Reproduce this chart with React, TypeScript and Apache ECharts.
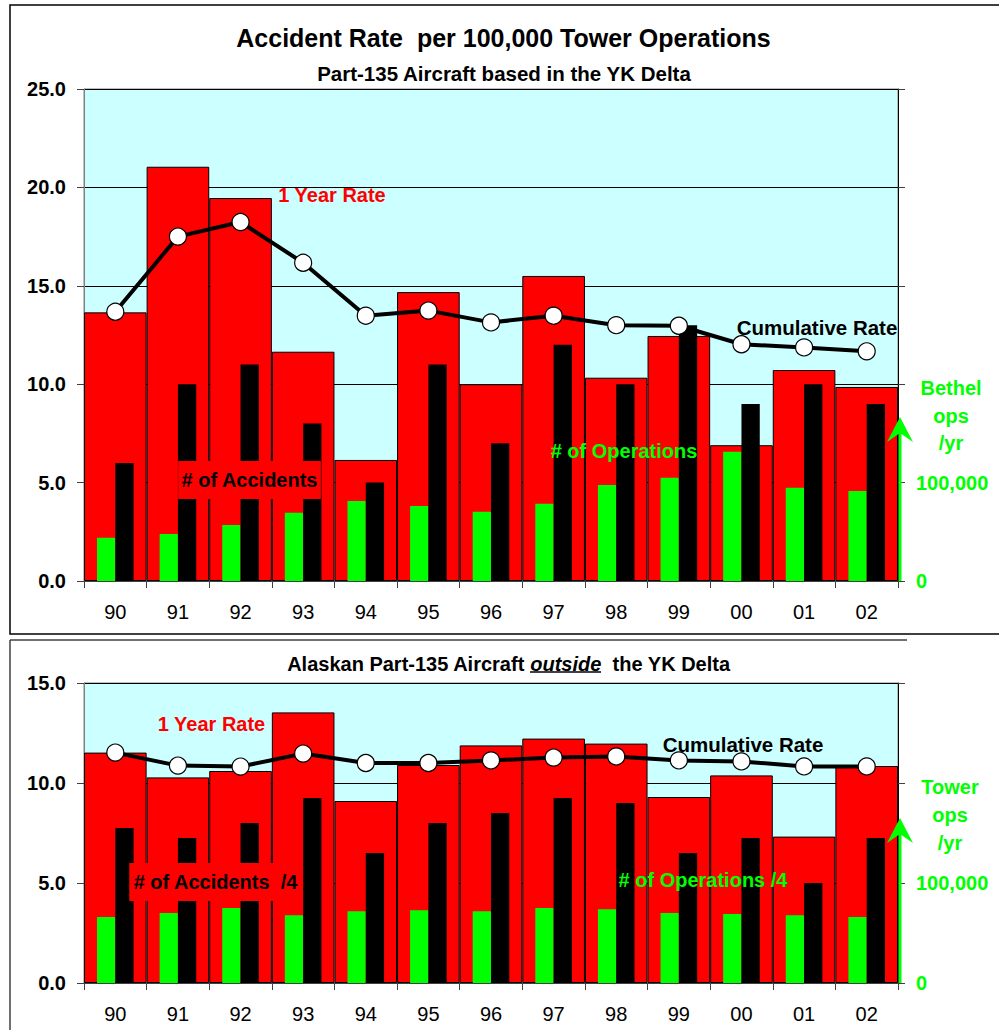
import React, { useEffect, useRef } from 'react';
import * as echarts from 'echarts';

const years = ['90', '91', '92', '93', '94', '95', '96', '97', '98', '99', '00', '01', '02'];

// Top chart: Part-135 aircraft based in the YK Delta
const ykOneYearRate = [13.65, 21.05, 19.46, 11.65, 6.15, 14.68, 10.0, 15.5, 10.33, 12.45, 6.9, 10.72, 9.86];
const ykCumulativeRate = [13.68, 17.5, 18.24, 16.17, 13.48, 13.74, 13.14, 13.48, 13.0, 12.97, 12.03, 11.87, 11.67];
const ykAccidents = [6, 10, 11, 8, 5, 11, 7, 12, 10, 13, 9, 10, 9];
const bethelOps = [44000, 47800, 57000, 69400, 81400, 76200, 70400, 78600, 97600, 105000, 131400, 94800, 91400];

// Bottom chart: Alaskan Part-135 aircraft outside the YK Delta
const akOneYearRate = [11.52, 10.28, 10.6, 13.53, 9.1, 10.9, 11.88, 12.22, 11.97, 9.3, 10.38, 7.32, 10.85];
const akCumulativeRate = [11.52, 10.87, 10.82, 11.47, 11.0, 11.0, 11.13, 11.27, 11.33, 11.13, 11.08, 10.83, 10.83];
const akAccidents = [31, 29, 32, 37, 26, 32, 34, 37, 36, 26, 29, 20, 29];
const towerOpsQuarter = [66000, 70000, 75000, 67700, 71700, 72700, 71700, 75000, 73700, 70000, 69000, 67700, 66000];

const rightAxisLabels: Record<number, string> = { 0: '0', 100000: '100,000' };

const FONT = '"Liberation Sans", Arial, sans-serif';
const RED = '#FF0000';
const GREEN = '#00FF00';
const CYAN = '#CCFFFF';

function txt(x: number, y: number, text: string, color: string, size = 20, extra: any = {}) {
  return {
    type: 'text',
    x,
    y,
    z: 100,
    style: {
      text,
      fill: color,
      font: `bold ${size}px ${FONT}`,
      align: 'center',
      verticalAlign: 'middle',
      textAlign: 'center',
      textVerticalAlign: 'middle',
      ...extra,
    },
  };
}

function arrow(x: number, yBottom: number, yTip: number) {
  return [
    {
      type: 'line',
      z: 90,
      shape: { x1: x, y1: yBottom, x2: x, y2: yTip + 12 },
      style: { stroke: GREEN, lineWidth: 3 },
    },
    {
      type: 'polygon',
      z: 90,
      shape: { points: [[x - 13, yTip + 25], [x, yTip], [x + 13, yTip + 25], [x, yTip + 16]] },
      style: { fill: GREEN },
    },
  ];
}

export default function App() {
  const ref = useRef<HTMLDivElement>(null);

  useEffect(() => {
    if (!ref.current) return;
    const chart = echarts.init(ref.current, undefined, { renderer: 'svg' });

    const grids = [
      { left: 84, top: 89, width: 814, height: 492 },
      { left: 84, top: 683, width: 814, height: 300 },
    ];

    const xAxes: any[] = [];
    const yAxes: any[] = [];
    [0, 1].forEach((g) => {
      xAxes.push({
        type: 'category',
        gridIndex: g,
        data: years,
        boundaryGap: true,
        axisLine: { lineStyle: { color: '#404040', width: 1 } },
        axisTick: { show: true, length: 7, lineStyle: { color: '#404040' } },
        axisLabel: { color: '#000', fontSize: 20, fontFamily: FONT, margin: 21 },
      });
      xAxes.push({
        type: 'category',
        gridIndex: g,
        data: years,
        show: false,
      });
      yAxes.push({
        type: 'value',
        gridIndex: g,
        position: 'left',
        min: 0,
        max: g === 0 ? 25 : 15,
        interval: 5,
        axisLine: { show: true, lineStyle: { color: '#808080' } },
        axisTick: { show: true, length: 7, lineStyle: { color: '#404040' } },
        axisLabel: {
          color: '#000',
          fontSize: 20,
          fontWeight: 'bold',
          fontFamily: FONT,
          margin: 18,
          formatter: (v: number) => v.toFixed(1),
        },
        splitLine: { show: true, lineStyle: { color: '#000', width: 1 } },
      });
      yAxes.push({
        type: 'value',
        gridIndex: g,
        position: 'right',
        min: 0,
        max: g === 0 ? 500000 : 300000,
        interval: 100000,
        axisLine: { show: true, lineStyle: { color: '#000' } },
        axisTick: { show: true, length: 7, lineStyle: { color: '#404040' } },
        axisLabel: {
          color: GREEN,
          fontSize: 20,
          fontWeight: 'bold',
          fontFamily: FONT,
          margin: 18,
          formatter: (v: number) => rightAxisLabels[v] ?? '',
        },
        splitLine: { show: false },
      });
    });

    const makeSeries = (g: number, rate: number[], cum: number[], acc: number[], ops: number[]) => [
      {
        type: 'bar',
        xAxisIndex: g * 2,
        yAxisIndex: g * 2,
        data: rate,
        barWidth: '100%',
        z: 1,
        itemStyle: { color: RED, borderColor: '#000', borderWidth: 1 },
      },
      {
        type: 'bar',
        xAxisIndex: g * 2 + 1,
        yAxisIndex: g * 2 + 1,
        data: ops,
        barWidth: 18.3,
        barGap: '0%',
        z: 2,
        itemStyle: { color: GREEN },
      },
      {
        type: 'bar',
        xAxisIndex: g * 2 + 1,
        yAxisIndex: g * 2,
        data: acc,
        barWidth: 18.3,
        barGap: '0%',
        z: 2,
        itemStyle: { color: '#000' },
      },
      {
        type: 'line',
        xAxisIndex: g * 2,
        yAxisIndex: g * 2,
        data: cum,
        z: 3,
        symbol: 'circle',
        symbolSize: 17,
        lineStyle: { color: '#000', width: 4 },
        itemStyle: { color: '#fff', borderColor: '#000', borderWidth: 1.2 },
      },
    ];

    const series = [
      ...makeSeries(0, ykOneYearRate, ykCumulativeRate, ykAccidents, bethelOps),
      ...makeSeries(1, akOneYearRate, akCumulativeRate, akAccidents.map((a) => a / 4), towerOpsQuarter),
    ];

    const graphic: any[] = [
      // frames
      {
        type: 'rect',
        z: 0,
        shape: { x: 10, y: 5, width: 1000, height: 629 },
        style: { fill: 'rgba(0,0,0,0)', stroke: '#000', lineWidth: 1.5 },
      },
      { type: 'line', z: 0, shape: { x1: 10, y1: 640, x2: 907, y2: 640 }, style: { stroke: '#404040', lineWidth: 1.5 } },
      { type: 'line', z: 0, shape: { x1: 10, y1: 640, x2: 10, y2: 1030 }, style: { stroke: '#404040', lineWidth: 1.5 } },
      // top texts
      txt(503.5, 38, 'Accident Rate  per 100,000 Tower Operations', '#000', 25),
      txt(504, 73, 'Part-135 Aircraft based in the YK Delta', '#000', 20.5),
      txt(332, 195, '1 Year Rate', RED),
      txt(817, 327, 'Cumulative Rate', '#000', 20.5),
      txt(249.5, 480, '# of Accidents', '#000', 20, { backgroundColor: RED, padding: [9, 3, 9, 3] }),
      txt(624, 451, '# of Operations', GREEN),
      txt(951, 388, 'Bethel', GREEN),
      txt(951, 416, 'ops', GREEN),
      txt(951, 443, '/yr', GREEN),
      ...arrow(900, 581, 417),
      // bottom texts
      {
        type: 'text',
        x: 508.5,
        y: 664,
        z: 100,
        style: {
          text: '{a|Alaskan Part-135 Aircraft }{b|outside}{a|  the YK Delta}',
          align: 'center',
          verticalAlign: 'middle',
          textAlign: 'center',
          textVerticalAlign: 'middle',
          rich: {
            a: { fill: '#000', color: '#000', fontSize: 20, fontWeight: 'bold', fontFamily: FONT },
            b: { fill: '#000', color: '#000', fontSize: 20, fontWeight: 'bold', fontStyle: 'italic', fontFamily: FONT },
          },
        },
      },
      { type: 'line', z: 100, shape: { x1: 530, y1: 672, x2: 601, y2: 672 }, style: { stroke: '#000', lineWidth: 1.5 } },
      txt(211.5, 724, '1 Year Rate', RED),
      txt(743, 744, 'Cumulative Rate', '#000', 20.5),
      txt(215.5, 882, '# of Accidents  /4', '#000', 20, { backgroundColor: RED, padding: [9, 4, 9, 4] }),
      txt(703, 880, '# of Operations /4', GREEN),
      txt(950, 787, 'Tower', GREEN),
      txt(950, 815, 'ops', GREEN),
      txt(950, 843, '/yr', GREEN),
      ...arrow(900, 983, 818),
    ];

    chart.setOption({
      animation: false,
      backgroundColor: '#fff',
      textStyle: { fontFamily: FONT },
      grid: grids.map((g) => ({ ...g, show: true, backgroundColor: CYAN, borderColor: '#808080', borderWidth: 1 })),
      xAxis: xAxes,
      yAxis: yAxes,
      series,
      graphic,
    });

    return () => chart.dispose();
  }, []);

  return <div ref={ref} style={{ position: 'absolute', left: 0, top: 0, width: 999, height: 1030 }} />;
}
